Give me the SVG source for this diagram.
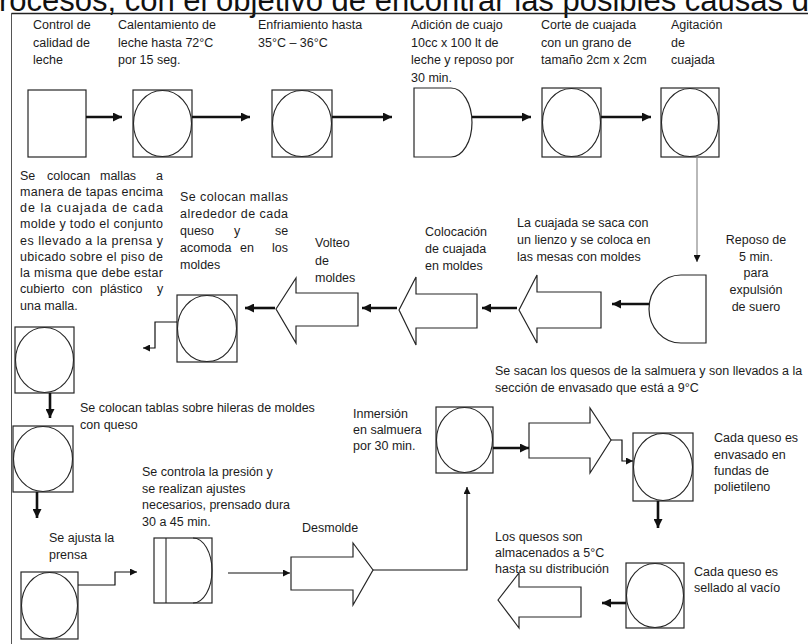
<svg xmlns="http://www.w3.org/2000/svg" width="808" height="644" viewBox="0 0 808 644">
<defs>
<style>
.t{font-family:"Liberation Sans",Arial,sans-serif;font-size:12.5px;fill:#1c1c1c}
.title{font-family:"Liberation Sans",Arial,sans-serif;font-size:31px;fill:#111}
.box{fill:#fff;stroke:#262626;stroke-width:1.2}
.ring{fill:none;stroke:#262626;stroke-width:1.1}
.blk{fill:#fff;stroke:#262626;stroke-width:1.2}
.thick{fill:none;stroke:#111;stroke-width:2.6}
.thin{fill:none;stroke:#111;stroke-width:1.2}
.gray{fill:none;stroke:#8a8a8a;stroke-width:1.2}
.frame{fill:none;stroke:#555}
</style>
<marker id="ah" viewBox="0 0 10 10" refX="10" refY="5" markerWidth="9" markerHeight="9" markerUnits="userSpaceOnUse" orient="auto"><path d="M0,0 L10,5 L0,10 z" fill="#111"/></marker>
<marker id="ahs" viewBox="0 0 10 10" refX="10" refY="5" markerWidth="7" markerHeight="7" markerUnits="userSpaceOnUse" orient="auto"><path d="M0,0 L10,5 L0,10 z" fill="#111"/></marker>
</defs>
<rect width="808" height="644" fill="#fff"/>
<text class="title" x="-1" y="11">rocesos, con el objetivo de encontrar las posibles causas d</text>
<path class="frame" d="M11.5,644 V13.5 H808" />
<path d="M11.5,13.5 H808" stroke="#222" stroke-width="1.6"/>

<g id="n1">
<rect class="box" x="28" y="90" width="58" height="67"/>
<text class="t"><tspan x="33" y="29">Control de</tspan><tspan x="33" y="46.5">calidad de</tspan><tspan x="33" y="64">leche</tspan></text>
</g>
<g id="n2">
<rect class="box" x="133" y="90" width="59" height="67"/><ellipse class="ring" cx="162.5" cy="123.5" rx="29" ry="33"/>
<text class="t"><tspan x="118" y="29">Calentamiento de</tspan><tspan x="118" y="46.5">leche hasta 72°C</tspan><tspan x="118" y="64">por 15 seg.</tspan></text>
</g>
<g id="n3">
<rect class="box" x="272" y="90" width="60" height="67"/><ellipse class="ring" cx="302" cy="123.5" rx="29.5" ry="33"/>
<text class="t"><tspan x="258" y="29">Enfriamiento hasta</tspan><tspan x="258" y="46.5">35°C – 36°C</tspan></text>
</g>
<g id="n4">
<path class="box" d="M451,88 H414 V157 H451 A21,34.5 0 0 0 451,88 Z"/>
<text class="t"><tspan x="411" y="29">Adición de cuajo</tspan><tspan x="411" y="46.5">10cc x 100 lt de</tspan><tspan x="411" y="64">leche y reposo por</tspan><tspan x="411" y="81.5">30 min.</tspan></text>
</g>
<g id="n5">
<rect class="box" x="542" y="88" width="59" height="69"/><ellipse class="ring" cx="571.5" cy="122.5" rx="29" ry="34"/>
<text class="t"><tspan x="541" y="29">Corte de cuajada</tspan><tspan x="541" y="46.5">con un grano de</tspan><tspan x="541" y="64">tamaño 2cm x 2cm</tspan></text>
</g>
<g id="n6">
<rect class="box" x="661" y="88" width="58" height="69"/><ellipse class="ring" cx="690" cy="122.5" rx="28.5" ry="34"/>
<text class="t"><tspan x="671" y="29">Agitación</tspan><tspan x="671" y="46.5">de</tspan><tspan x="671" y="64">cuajada</tspan></text>
</g>
<g id="n7">
<path class="box" d="M681,275 H706 V343 H681 A32,34 0 0 1 681,275 Z"/>
<text class="t" text-anchor="middle"><tspan x="756" y="244">Reposo de</tspan><tspan x="756" y="261">5 min.</tspan><tspan x="756" y="277">para</tspan><tspan x="756" y="294">expulsión</tspan><tspan x="756" y="311">de suero</tspan></text>
</g>
<g id="n8">
<path class="blk" d="M519,310 L537,275 L537,292 L601,292 L601,328 L537,328 L537,343 Z"/>
<text class="t"><tspan x="517" y="227">La cuajada se saca con</tspan><tspan x="517" y="244">un lienzo y se coloca en</tspan><tspan x="517" y="261">las mesas con moldes</tspan></text>
</g>
<g id="n9">
<path class="blk" d="M399,310 L416,277 L416,294 L477,294 L477,328 L416,328 L416,345 Z"/>
<text class="t"><tspan x="425" y="236">Colocación</tspan><tspan x="425" y="253">de cuajada</tspan><tspan x="425" y="270">en moldes</tspan></text>
</g>
<g id="n10">
<path class="blk" d="M276,309 L296,278 L296,293 L358,293 L358,326 L296,326 L296,343 Z"/>
<text class="t"><tspan x="315" y="247">Volteo</tspan><tspan x="315" y="264.5">de</tspan><tspan x="315" y="282">moldes</tspan></text>
</g>
<g id="n11">
<rect class="box" x="177" y="295" width="60" height="67"/><ellipse class="ring" cx="207" cy="328.5" rx="29.5" ry="33"/>
<text class="t" x="180" y="201" textLength="108" lengthAdjust="spacing">Se colocan mallas</text>
<text class="t" x="180" y="218.1" textLength="108" lengthAdjust="spacing">alrededor de cada</text>
<text class="t" y="235.2"><tspan x="180">queso</tspan><tspan x="234">y</tspan><tspan x="275">se</tspan></text>
<text class="t" y="252.3"><tspan x="180">acomoda</tspan><tspan x="240">en</tspan><tspan x="272">los</tspan></text>
<text class="t" x="180" y="269.4">moldes</text>
</g>
<g id="n12">
<rect class="box" x="15" y="327" width="59" height="66"/><ellipse class="ring" cx="44.5" cy="360" rx="29" ry="32.5"/>
<text class="t" y="179.5"><tspan x="20">Se</tspan><tspan x="47">colocan</tspan><tspan x="100">mallas</tspan><tspan x="156">a</tspan></text>
<text class="t" x="20" y="195.75" textLength="143" lengthAdjust="spacing">manera de tapas encima</text>
<text class="t" x="20" y="212" textLength="143" lengthAdjust="spacing">de la cuajada de cada</text>
<text class="t" x="20" y="228.25" textLength="143" lengthAdjust="spacing">molde y todo el conjunto</text>
<text class="t" x="20" y="244.5" textLength="143" lengthAdjust="spacing">es llevado a la prensa y</text>
<text class="t" x="20" y="260.75" textLength="143" lengthAdjust="spacing">ubicado sobre el piso de</text>
<text class="t" x="20" y="277" textLength="143" lengthAdjust="spacing">la misma que debe estar</text>
<text class="t" y="293.25"><tspan x="20">cubierto</tspan><tspan x="72">con</tspan><tspan x="100">plástico</tspan><tspan x="157">y</tspan></text>
<text class="t" x="20" y="309.5">una malla.</text>
</g>
<g id="n13">
<rect class="box" x="13" y="426" width="60" height="66"/><ellipse class="ring" cx="43" cy="459" rx="29.5" ry="32.5"/>
<text class="t"><tspan x="80" y="412">Se colocan tablas sobre hileras de moldes</tspan><tspan x="80" y="429">con queso</tspan></text>
</g>
<g id="n14">
<rect class="box" x="21" y="572" width="57" height="67"/><ellipse class="ring" cx="49.5" cy="605.5" rx="28" ry="33"/>
<text class="t"><tspan x="49" y="542">Se ajusta la</tspan><tspan x="49" y="559">prensa</tspan></text>
</g>
<g id="n15">
<rect class="box" x="154" y="538" width="58" height="65"/>
<path class="ring" d="M166,538 V603 M193,538 A19,32.5 0 0 1 193,603"/>
<text class="t"><tspan x="142" y="476">Se controla la presión y</tspan><tspan x="142" y="493">se realizan ajustes</tspan><tspan x="142" y="509">necesarios, prensado dura</tspan><tspan x="142" y="526">30 a 45 min.</tspan></text>
</g>
<g id="n16">
<path class="blk" d="M291,557 L353,557 L353,543 L373,570 L353,605 L353,590 L291,590 Z"/>
<text class="t" x="302" y="532">Desmolde</text>
</g>
<g id="n17">
<rect class="box" x="436" y="407" width="57" height="66"/><ellipse class="ring" cx="464.5" cy="440" rx="28" ry="32.5"/>
<text class="t"><tspan x="353" y="418">Inmersión</tspan><tspan x="353" y="434">en salmuera</tspan><tspan x="353" y="450">por 30 min.</tspan></text>
</g>
<g id="n18">
<path class="blk" d="M529,423 L590,423 L590,408 L611,440 L590,473 L590,458 L529,458 Z"/>
<text class="t"><tspan x="495" y="375">Se sacan los quesos de la salmuera y son llevados a la</tspan><tspan x="495" y="392">sección de envasado que está a 9°C</tspan></text>
</g>
<g id="n19">
<rect class="box" x="633" y="433" width="60" height="68"/><ellipse class="ring" cx="663" cy="467" rx="29.5" ry="33.5"/>
<text class="t"><tspan x="714" y="442">Cada queso es</tspan><tspan x="714" y="459">envasado en</tspan><tspan x="714" y="475">fundas de</tspan><tspan x="714" y="491">polietileno</tspan></text>
</g>
<g id="n20">
<rect class="box" x="626" y="563" width="58" height="65"/><ellipse class="ring" cx="655" cy="595.5" rx="28.5" ry="32"/>
<text class="t"><tspan x="694" y="576">Cada queso es</tspan><tspan x="694" y="592">sellado al vacío</tspan></text>
</g>
<g id="n21">
<path class="blk" d="M498,600 L519,573 L519,587 L581,587 L581,617 L519,617 L519,628 Z"/>
<text class="t"><tspan x="495" y="541">Los quesos son</tspan><tspan x="495" y="557">almacenados a 5°C</tspan><tspan x="495" y="573">hasta su distribución</tspan></text>
</g>

<g id="connectors">
<path class="thick" marker-end="url(#ah)" d="M86,117 H122"/>
<path class="thick" marker-end="url(#ah)" d="M192,117 H250"/>
<path class="thick" marker-end="url(#ah)" d="M332,117 H392"/>
<path class="thick" marker-end="url(#ah)" d="M472,117 H531"/>
<path class="thick" marker-end="url(#ah)" d="M601,117 H651"/>
<path class="gray" marker-end="url(#ahs)" d="M697,157 V262"/>
<path class="thick" marker-end="url(#ah)" d="M649,304 H612"/>
<path class="thick" marker-end="url(#ah)" d="M517,308 H482"/>
<path class="thick" marker-end="url(#ah)" d="M397,308 H362"/>
<path class="thick" marker-end="url(#ah)" d="M275,308 H245"/>
<path class="thin" marker-end="url(#ahs)" d="M177,322 H155 V348 H143"/>
<path class="thick" marker-end="url(#ah)" d="M50,393 V418"/>
<path class="thick" marker-end="url(#ah)" d="M37,492 V518"/>
<path class="thin" marker-end="url(#ahs)" d="M78,585 H115 V572 H137"/>
<path class="thin" marker-end="url(#ahs)" d="M228,573 H290"/>
<path class="thin" marker-end="url(#ahs)" d="M373,570 H467 V487"/>
<path class="thick" marker-end="url(#ah)" d="M493,448 H529"/>
<path class="thin" marker-end="url(#ahs)" d="M611,440 H622 V461 H633"/>
<path class="thick" marker-end="url(#ah)" d="M658,501 V528"/>
<path class="thick" marker-end="url(#ah)" d="M626,603 H602"/>
</g>
</svg>
